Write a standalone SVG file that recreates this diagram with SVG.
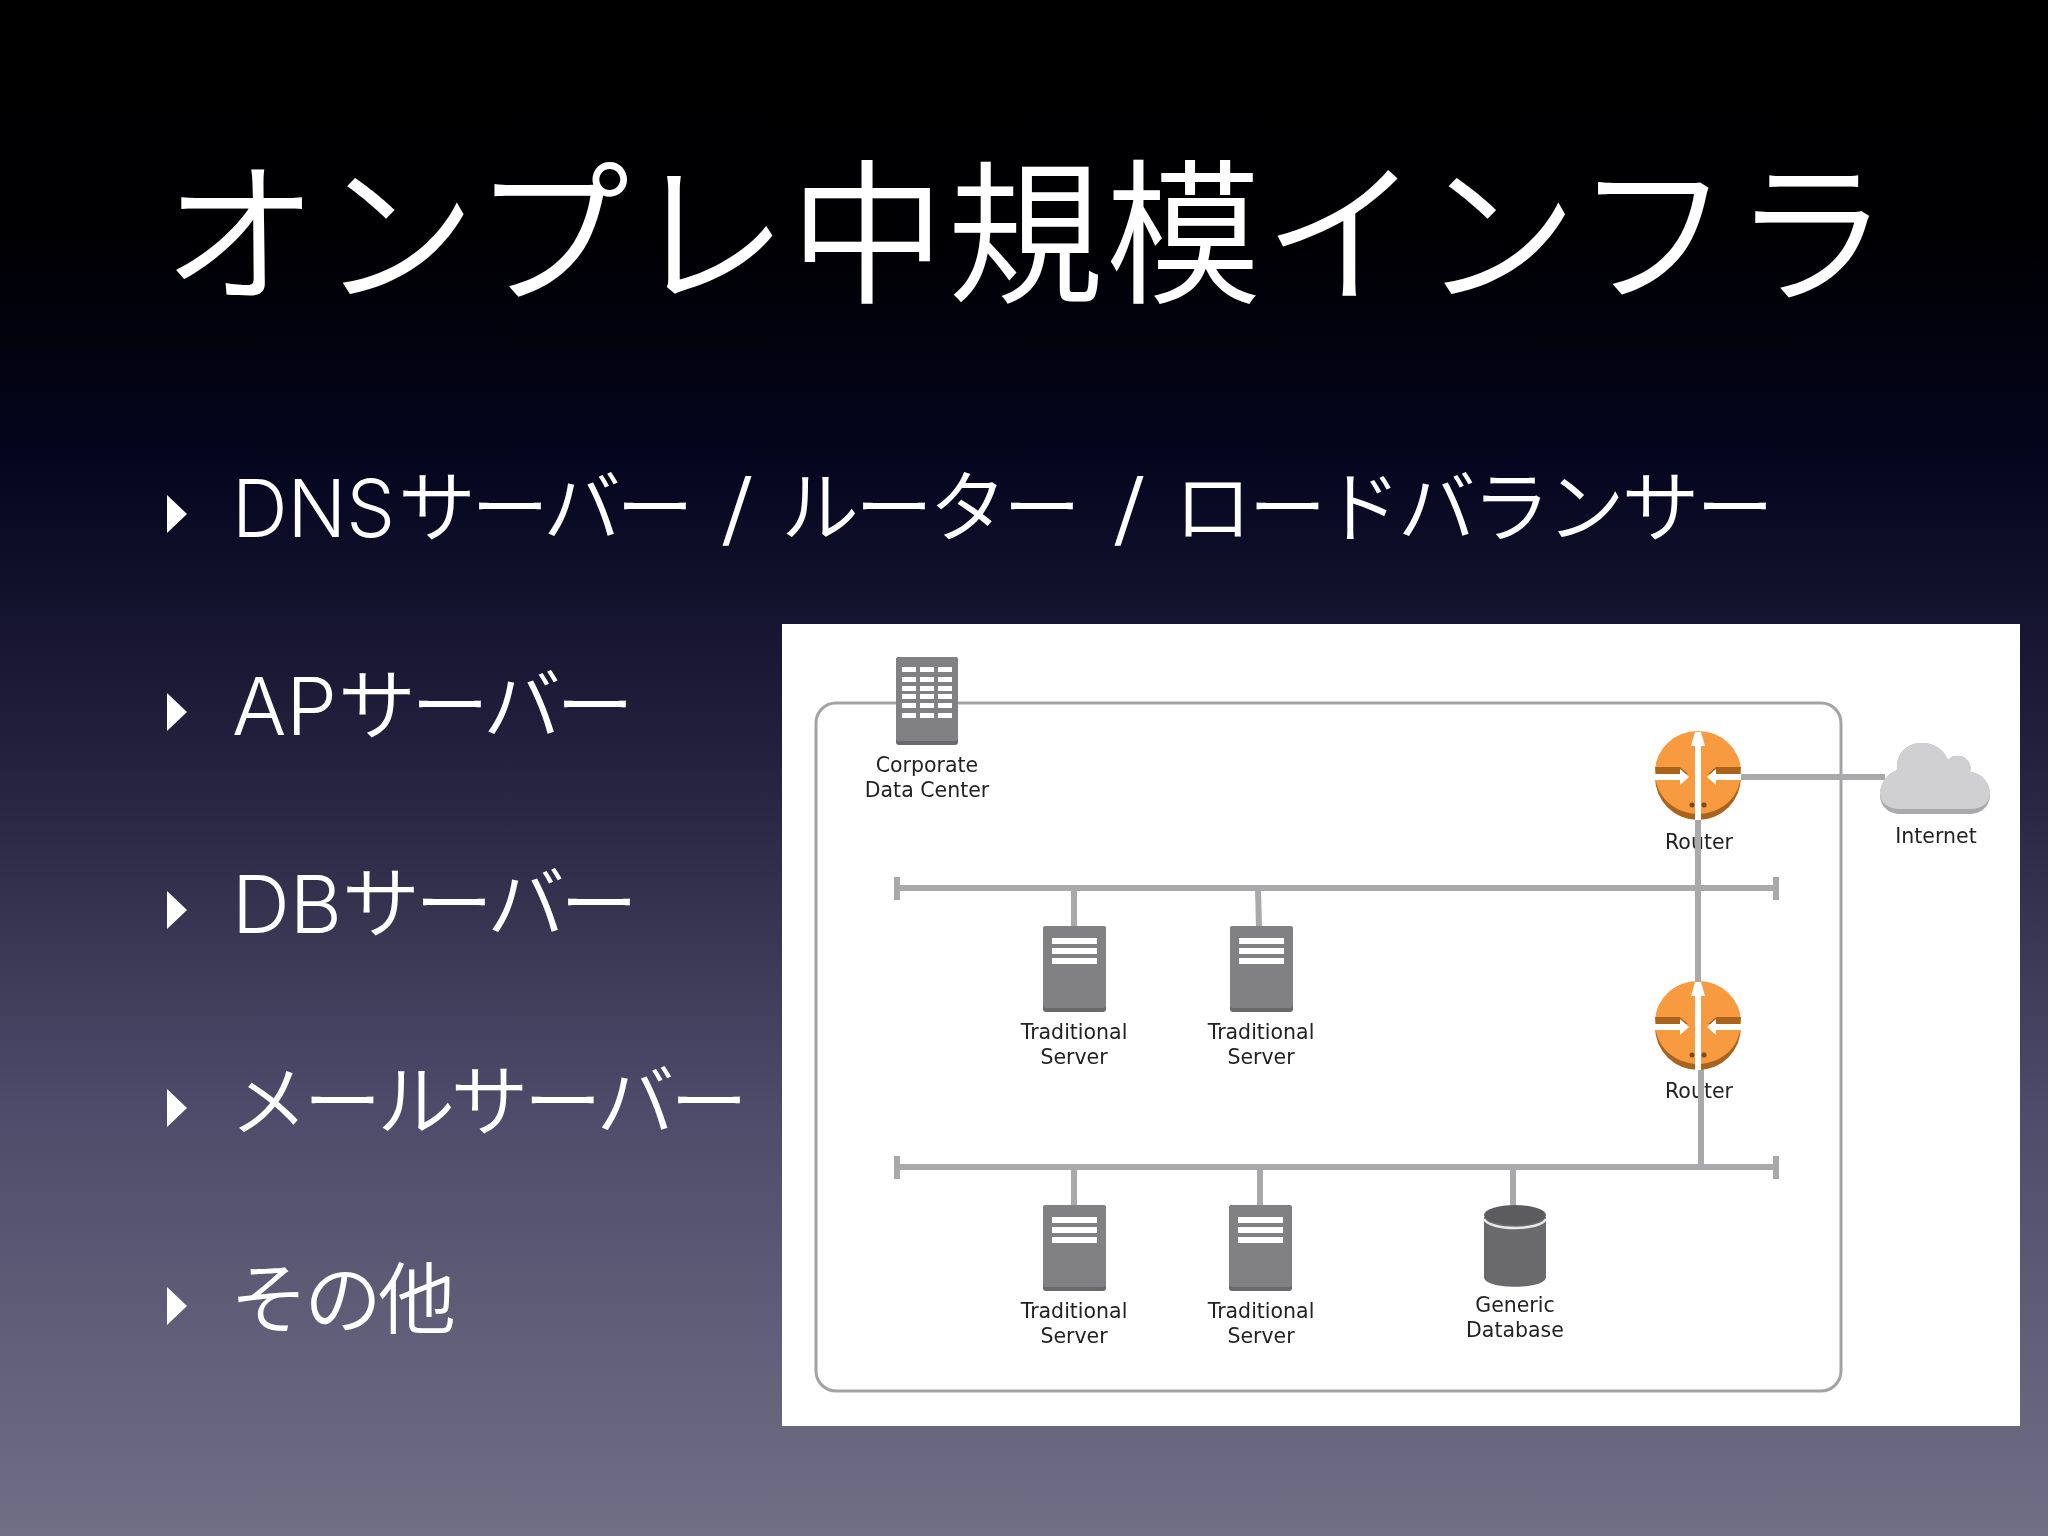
<svg xmlns="http://www.w3.org/2000/svg" width="2048" height="1536" viewBox="0 0 2048 1536">
<style>
.t{fill:#fff;font-family:"Noto Sans CJK JP",sans-serif;font-weight:350}
.b{font-family:"Noto Sans CJK JP",sans-serif;font-size:78px;font-weight:350;fill:#fff}
.a{font-family:"Inter","Liberation Sans",sans-serif;font-size:80px;font-weight:300;fill:#fff}
.l{font-family:"DejaVu Sans",sans-serif;font-size:20.5px;fill:#222;text-anchor:middle}
.w{stroke:#a9a9ab;stroke-width:6;fill:none}
</style>
<defs>
<linearGradient id="bg" x1="0" y1="0" x2="0" y2="1">
<stop offset="0" stop-color="#000"/><stop offset="0.16" stop-color="#000003"/><stop offset="0.3" stop-color="#05051f"/><stop offset="0.5" stop-color="#25223f"/><stop offset="0.72" stop-color="#4d4b69"/><stop offset="1" stop-color="#716f86"/>
</linearGradient>
<filter id="soft" x="-2%" y="-2%" width="104%" height="104%"><feGaussianBlur stdDeviation="0.7"/></filter>
<g id="server">
<rect x="0" y="0" width="63" height="86" rx="3" fill="#6a6a6c"/>
<rect x="0" y="0" width="63" height="82" rx="3" fill="#818183"/>
<rect x="9" y="12" width="45" height="6" fill="#fff"/><rect x="9" y="22" width="45" height="6" fill="#fff"/><rect x="9" y="32" width="45" height="6" fill="#fff"/>
</g>
<g id="router">
<circle cx="0" cy="1" r="43" fill="#a9641f"/>
<path d="M-43-4A43 41 0 0 1 43-4C43 20 25 37 0 38-25 37-43 20-43-4Z" fill="#f79a40"/>
<path d="M-43-9H-18L-10-2H-42ZM43-9H18L10-2H42Z" fill="#a9641f"/>
<path d="M-43-2H-18V-7L-9 1-18 9V4H-43ZM43-2H18V-7L9 1 18 9V4H43Z" fill="#fff"/>
<path d="M-3-44H3L7-30H3V44H-3V-30H-7Z" fill="#fff"/>
<circle cx="-6" cy="29" r="2.5" fill="#7d4a18"/><circle cx="6" cy="29" r="2.5" fill="#7d4a18"/>
</g>
</defs>
<rect id="background" width="2048" height="1536" fill="url(#bg)"/>
<text id="title" class="t" x="162" y="291" font-size="156" textLength="1727" lengthAdjust="spacing">オンプレ中規模インフラ</text>
<g id="bullets" fill="#fff">
<path d="M167 495L187 514 167 533Z"/><path d="M167 693L187 712 167 731Z"/><path d="M167 891L187 910 167 929Z"/><path d="M167 1089L187 1108 167 1127Z"/><path d="M167 1287L187 1306 167 1325Z"/>
</g>
<g id="item-1">
<text class="a" x="232" y="537" textLength="163" lengthAdjust="spacingAndGlyphs">DNS</text>
<text class="b" x="398" y="536" textLength="296" lengthAdjust="spacing">サーバー</text>
<text class="a" x="720" y="537" textLength="34" lengthAdjust="spacingAndGlyphs">/</text>
<text class="b" x="781" y="536" textLength="300" lengthAdjust="spacing">ルーター</text>
<text class="a" x="1112" y="537" textLength="34" lengthAdjust="spacingAndGlyphs">/</text>
<text class="b" x="1174" y="536" textLength="600" lengthAdjust="spacing">ロードバランサー</text>
</g>
<g id="item-2">
<text class="a" x="232" y="735" textLength="105" lengthAdjust="spacingAndGlyphs">AP</text>
<text class="b" x="338" y="734" textLength="296" lengthAdjust="spacing">サーバー</text>
</g>
<g id="item-3">
<text class="a" x="232" y="933" textLength="110" lengthAdjust="spacingAndGlyphs">DB</text>
<text class="b" x="342" y="932" textLength="296" lengthAdjust="spacing">サーバー</text>
</g>
<text class="b" x="230" y="1130" textLength="518" lengthAdjust="spacing">メールサーバー</text>
<text class="b" x="230" y="1328" textLength="226" lengthAdjust="spacing">その他</text>
<rect id="panel" x="782" y="624" width="1238" height="802" fill="#fff"/>
<g filter="url(#soft)">
<rect id="boundary" x="816" y="703" width="1025" height="688" rx="20" fill="none" stroke="#a3a3a5" stroke-width="3"/>
<g id="connectors" class="w">
<path d="M897 888H1776M897 877V900M1776 877V900"/>
<path d="M897 1167H1776M897 1156V1179M1776 1156V1179"/>
<path d="M1074 888V928M1258 888 1259 928"/>
<path d="M1074 1167V1206M1260 1167V1206M1513 1167V1206"/>
<path d="M1698 820V1060M1701 1060V1167M1738 777H1885"/>
</g>
<g id="corporate-dc">
<rect x="896" y="657" width="62" height="88" rx="3" fill="#6a6a6c"/><rect x="896" y="657" width="62" height="84" rx="3" fill="#818183"/>
<g fill="#fff"><path d="M902 667h14v5h-14zM920 667h14v5h-14zM938 667h14v5h-14zM902 677h14v5h-14zM920 677h14v5h-14zM938 677h14v5h-14zM902 686h14v5h-14zM920 686h14v5h-14zM938 686h14v5h-14zM902 694h14v5h-14zM920 694h14v5h-14zM938 694h14v5h-14zM902 703h14v5h-14zM920 703h14v5h-14zM938 703h14v5h-14zM902 713h14v5h-14zM920 713h14v5h-14zM938 713h14v5h-14z"/></g>
<text class="l" x="927" y="772">Corporate</text><text class="l" x="927" y="797">Data Center</text>
</g>
<g id="server-1"><use href="#server" x="1043" y="926"/><text class="l" x="1074" y="1039">Traditional</text><text class="l" x="1074" y="1064">Server</text></g>
<g id="server-2"><use href="#server" x="1230" y="926"/><text class="l" x="1261" y="1039">Traditional</text><text class="l" x="1261" y="1064">Server</text></g>
<g id="server-3"><use href="#server" x="1043" y="1205"/><text class="l" x="1074" y="1318">Traditional</text><text class="l" x="1074" y="1343">Server</text></g>
<g id="server-4"><use href="#server" x="1229" y="1205"/><text class="l" x="1261" y="1318">Traditional</text><text class="l" x="1261" y="1343">Server</text></g>
<g id="database">
<path d="M1484 1217V1277C1484 1290 1546 1290 1546 1277V1217Z" fill="#6a6a6c"/>
<path d="M1484 1219C1490 1231 1540 1231 1546 1219" fill="none" stroke="#e8e8e8" stroke-width="2.5"/>
<ellipse cx="1515" cy="1215" rx="31" ry="10" fill="#5c5c5e"/>
<text class="l" x="1515" y="1312">Generic</text><text class="l" x="1515" y="1337">Database</text>
</g>
<g id="router-1"><use href="#router" x="1698" y="776"/><text class="l" x="1699" y="849">Router</text></g>
<g id="router-2"><use href="#router" x="1698" y="1026"/><text class="l" x="1699" y="1098">Router</text></g>
<path d="M1698 820V862M1701 1070V1105" class="w"/>
<g id="internet">
<path d="M1880 795C1880 783 1888 773 1897 770 1896 752 1908 743 1922 743 1935 743 1944 750 1948 760 1952 755 1962 754 1967 760 1971 764 1971 768 1970 772 1982 773 1990 783 1990 795 1990 805 1982 814 1970 814H1900C1888 814 1880 805 1880 795Z" fill="#a9a9ab"/>
<path d="M1880 793C1880 783 1888 773 1897 770 1896 752 1908 743 1922 743 1935 743 1944 750 1948 760 1952 755 1962 754 1967 760 1971 764 1971 768 1970 772 1982 773 1990 783 1990 793 1990 803 1982 809 1970 809H1900C1888 809 1880 803 1880 793Z" fill="#d0d0d2"/>
<text class="l" x="1936" y="843">Internet</text>
</g>
</g>
</svg>
